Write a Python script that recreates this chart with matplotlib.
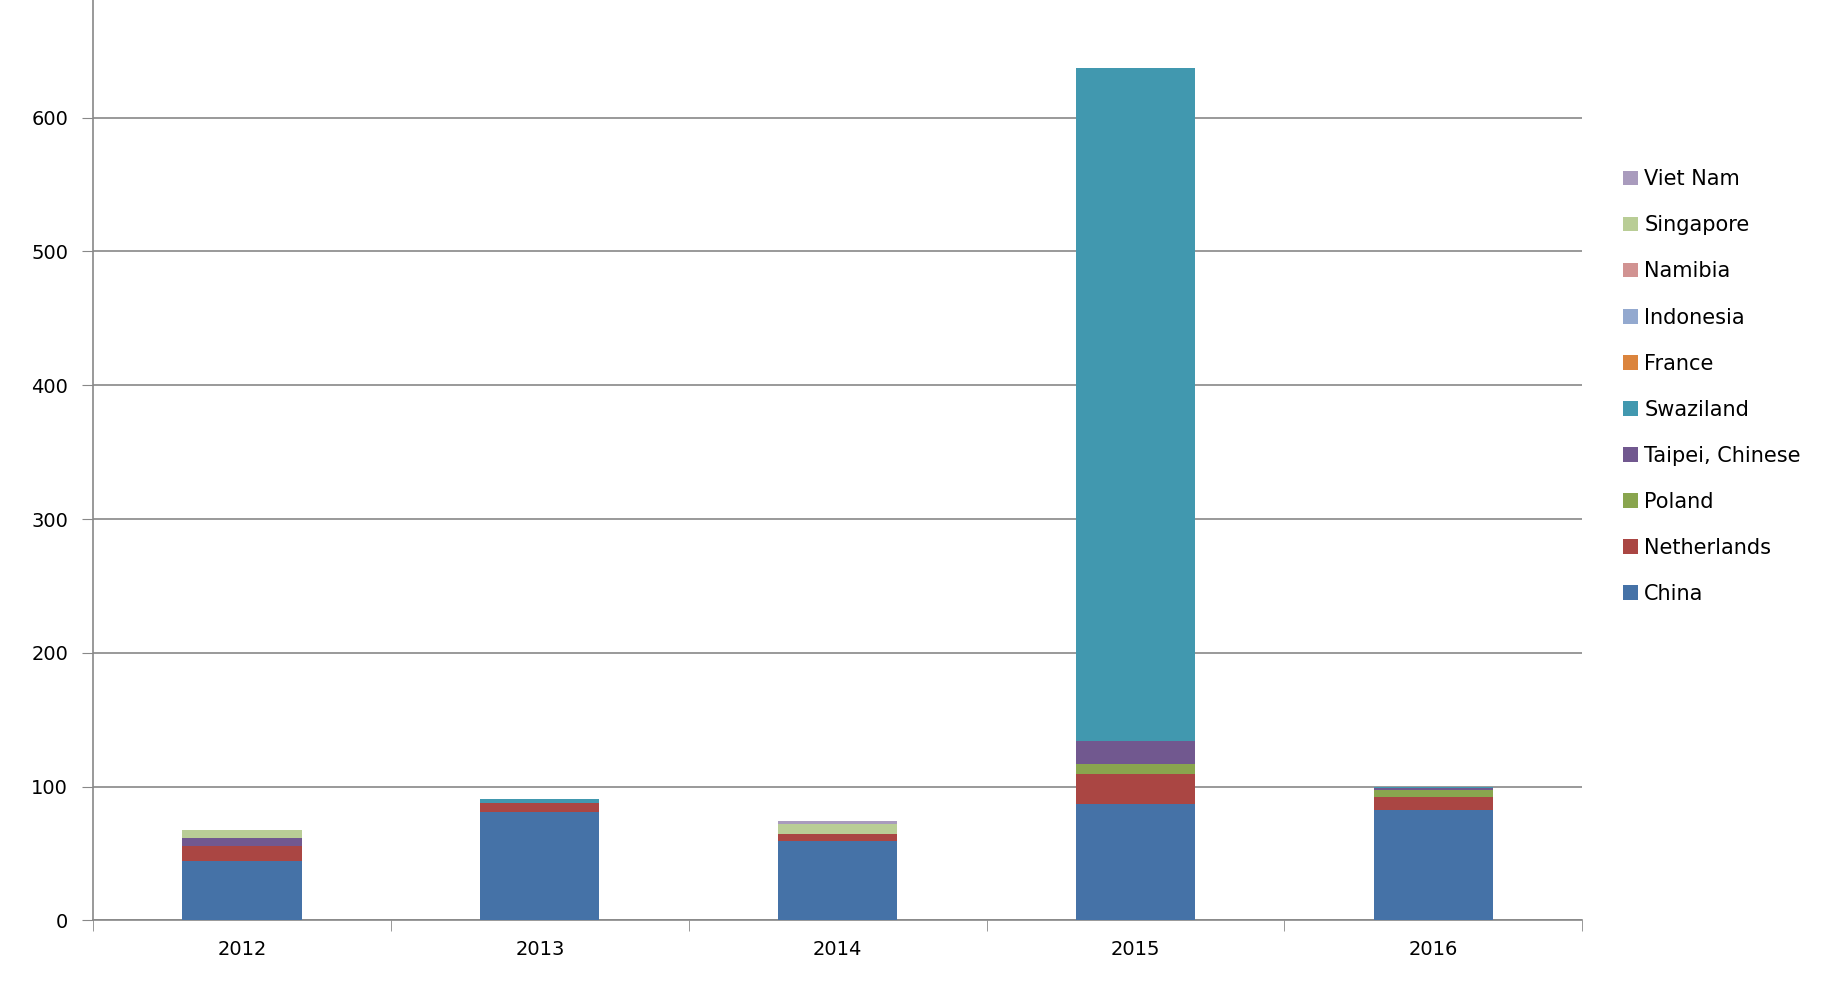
import matplotlib
matplotlib.use("Agg")
import matplotlib.pyplot as plt
import numpy as np

years = ["2012", "2013", "2014", "2015", "2016"]
series = ["China", "Netherlands", "Poland", "Taipei, Chinese", "Swaziland",
          "France", "Indonesia", "Namibia", "Singapore", "Viet Nam"]
china       = [44.6, 81.1, 59.5, 86.8, 82.3]
netherlands = [10.8, 6.5, 4.8, 22.6, 10.2]
poland      = [0, 0, 0, 7.4, 5.0]
taipei      = [5.9, 0.5, 0, 17.1, 1.1]
swaziland   = [0, 2.5, 0, 503.6, 1.0]
france      = [0, 0, 0, 0, 0]
indonesia   = [0, 0, 0, 0, 0]
namibia     = [0, 0, 0, 0, 0]
singapore   = [6.4, 0, 7.7, 0, 0]
vietnam     = [0, 0, 2.0, 0, 0]
values = [china, netherlands, poland, taipei, swaziland, france, indonesia, namibia, singapore, vietnam]
colors = ["#4572A7", "#AA4643", "#89A54E", "#71588F", "#4198AF",
          "#DB843D", "#93A9CF", "#D19392", "#B9CD96", "#A99BBD"]

fig = plt.figure(figsize=(18.25, 10.07), dpi=100)
ax = fig.add_axes([0.051, 0.086, 0.816, 0.93])
x = np.arange(len(years))
bottom = np.zeros(len(years))
handles = []
for name, vals, c in zip(series, values, colors):
    h = ax.bar(x, vals, 0.4, bottom=bottom, color=c, label=name, zorder=3)
    handles.append(h)
    bottom += np.array(vals)

ax.set_xlim(-0.5, 4.5)
ax.set_ylim(0, 700)
ax.set_yticks(range(0, 701, 100))
ax.set_xticks(x)
ax.set_xticklabels(years)
ax.set_xticks(np.arange(-0.5, 4.6, 1), minor=True)
ax.tick_params(axis="x", which="major", length=0, pad=14, labelsize=14)
ax.tick_params(axis="x", which="minor", length=8, color="#888888")
ax.tick_params(axis="y", length=8, color="#888888", labelsize=14, pad=10)
ax.yaxis.grid(True, color="#888888", linewidth=1.2, zorder=0)
for s in ["top", "right"]:
    ax.spines[s].set_visible(False)
for s in ["left", "bottom"]:
    ax.spines[s].set_color("#888888")
    ax.spines[s].set_linewidth(1.2)

ax.legend(handles[::-1], series[::-1], loc="center left", bbox_to_anchor=(1.015, 0.57),
          frameon=False, fontsize=15, handlelength=0.7, handleheight=0.7,
          handletextpad=0.3, labelspacing=1.25)

fig.savefig("out.png", dpi=100)
